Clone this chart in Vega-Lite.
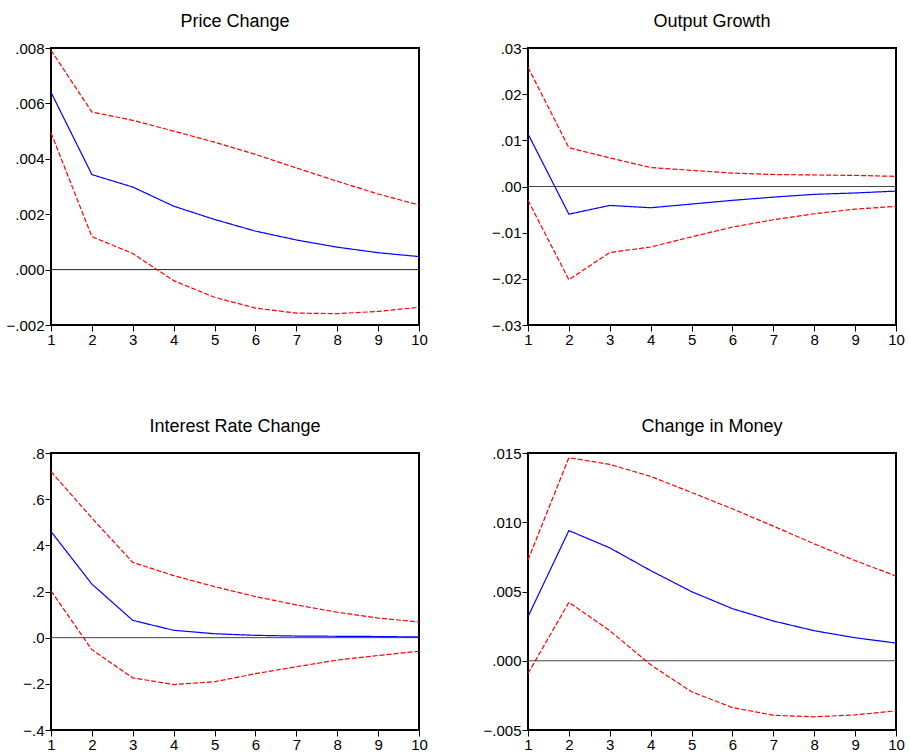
{
  "$schema": "https://vega.github.io/schema/vega-lite/v6.json",
  "background": "white",
  "padding": {"left": 5, "top": 12, "right": 5, "bottom": 5},
  "data": {"values": [
    {"p": "price", "h": 1, "resp": 0.0064, "lo": 0.00494, "hi": 0.00792},
    {"p": "price", "h": 2, "resp": 0.00343, "lo": 0.00119, "hi": 0.00569},
    {"p": "price", "h": 3, "resp": 0.00298, "lo": 0.00058, "hi": 0.00539},
    {"p": "price", "h": 4, "resp": 0.00229, "lo": -0.0004, "hi": 0.005},
    {"p": "price", "h": 5, "resp": 0.00181, "lo": -0.001, "hi": 0.0046},
    {"p": "price", "h": 6, "resp": 0.00139, "lo": -0.00139, "hi": 0.00416},
    {"p": "price", "h": 7, "resp": 0.00107, "lo": -0.00157, "hi": 0.00367},
    {"p": "price", "h": 8, "resp": 0.00081, "lo": -0.00159, "hi": 0.00319},
    {"p": "price", "h": 9, "resp": 0.00061, "lo": -0.00151, "hi": 0.00273},
    {"p": "price", "h": 10, "resp": 0.00047, "lo": -0.00136, "hi": 0.00233},
    {"p": "output", "h": 1, "resp": 0.0114, "lo": -0.003, "hi": 0.0258},
    {"p": "output", "h": 2, "resp": -0.006, "lo": -0.0202, "hi": 0.0084},
    {"p": "output", "h": 3, "resp": -0.0041, "lo": -0.0143, "hi": 0.0062},
    {"p": "output", "h": 4, "resp": -0.0046, "lo": -0.0131, "hi": 0.0041},
    {"p": "output", "h": 5, "resp": -0.0038, "lo": -0.0109, "hi": 0.0035},
    {"p": "output", "h": 6, "resp": -0.003, "lo": -0.0088, "hi": 0.0029},
    {"p": "output", "h": 7, "resp": -0.0023, "lo": -0.0072, "hi": 0.0026},
    {"p": "output", "h": 8, "resp": -0.0017, "lo": -0.0059, "hi": 0.0025},
    {"p": "output", "h": 9, "resp": -0.0014, "lo": -0.0049, "hi": 0.0024},
    {"p": "output", "h": 10, "resp": -0.001, "lo": -0.0043, "hi": 0.0022},
    {"p": "interest", "h": 1, "resp": 0.46, "lo": 0.203, "hi": 0.719},
    {"p": "interest", "h": 2, "resp": 0.232, "lo": -0.052, "hi": 0.518},
    {"p": "interest", "h": 3, "resp": 0.075, "lo": -0.174, "hi": 0.326},
    {"p": "interest", "h": 4, "resp": 0.032, "lo": -0.203, "hi": 0.269},
    {"p": "interest", "h": 5, "resp": 0.017, "lo": -0.191, "hi": 0.221},
    {"p": "interest", "h": 6, "resp": 0.01, "lo": -0.156, "hi": 0.178},
    {"p": "interest", "h": 7, "resp": 0.007, "lo": -0.126, "hi": 0.142},
    {"p": "interest", "h": 8, "resp": 0.006, "lo": -0.097, "hi": 0.11},
    {"p": "interest", "h": 9, "resp": 0.005, "lo": -0.077, "hi": 0.085},
    {"p": "interest", "h": 10, "resp": 0.003, "lo": -0.059, "hi": 0.068},
    {"p": "money", "h": 1, "resp": 0.00318, "lo": -0.00092, "hi": 0.00728},
    {"p": "money", "h": 2, "resp": 0.0094, "lo": 0.00422, "hi": 0.01466},
    {"p": "money", "h": 3, "resp": 0.00815, "lo": 0.00217, "hi": 0.01418},
    {"p": "money", "h": 4, "resp": 0.00651, "lo": -0.00029, "hi": 0.01331},
    {"p": "money", "h": 5, "resp": 0.00499, "lo": -0.00224, "hi": 0.01215},
    {"p": "money", "h": 6, "resp": 0.00376, "lo": -0.00338, "hi": 0.01097},
    {"p": "money", "h": 7, "resp": 0.00287, "lo": -0.00393, "hi": 0.00972},
    {"p": "money", "h": 8, "resp": 0.00217, "lo": -0.00405, "hi": 0.00844},
    {"p": "money", "h": 9, "resp": 0.00166, "lo": -0.00391, "hi": 0.00723},
    {"p": "money", "h": 10, "resp": 0.00128, "lo": -0.00362, "hi": 0.00612}
  ]},
  "columns": 2,
  "spacing": {"row": 67, "column": 53},
  "concat": [
    {
      "title": "Price Change",
      "width": 368, "height": 277,
      "layer": [
        {
          "data": {"values": [{"zero": 0}]},
          "mark": {"type": "rule", "color": "#222", "strokeWidth": 1},
          "encoding": {"y": {"field": "zero", "type": "quantitative", "axis": {"title": null}}}
        },
        {
          "transform": [{"filter": "datum.p == 'price'"}, {"fold": ["resp", "lo", "hi"], "as": ["s", "v"]}],
          "mark": {"type": "line", "strokeWidth": 1.2},
          "encoding": {
            "x": {"field": "h", "type": "quantitative", "scale": {"domain": [1, 10], "nice": false, "zero": false}, "axis": {"values": [1,2,3,4,5,6,7,8,9,10], "format": "d", "labelFlush": false, "title": null}},
            "y": {"field": "v", "type": "quantitative", "scale": {"domain": [-0.002, 0.008], "nice": false, "zero": false}, "axis": {"values": [-0.002, 0, 0.002, 0.004, 0.006, 0.008], "labelExpr": "replace(format(datum.value, '.3f'), '0.', '.')", "title": null}},
            "color": {"field": "s", "type": "nominal", "scale": {"domain": ["resp", "lo", "hi"], "range": ["#0000ff", "#ff0000", "#ff0000"]}, "legend": null},
            "strokeDash": {"field": "s", "type": "nominal", "scale": {"domain": ["resp", "lo", "hi"], "range": [[1, 0], [5, 2], [5, 2]]}, "legend": null}
          }
        }
      ]
    },
    {
      "title": "Output Growth",
      "width": 368, "height": 277,
      "layer": [
        {
          "data": {"values": [{"zero": 0}]},
          "mark": {"type": "rule", "color": "#444", "strokeWidth": 1},
          "encoding": {"y": {"field": "zero", "type": "quantitative", "axis": {"title": null}}}
        },
        {
          "transform": [{"filter": "datum.p == 'output'"}, {"fold": ["resp", "lo", "hi"], "as": ["s", "v"]}],
          "mark": {"type": "line", "strokeWidth": 1.2},
          "encoding": {
            "x": {"field": "h", "type": "quantitative", "scale": {"domain": [1, 10], "nice": false, "zero": false}, "axis": {"values": [1,2,3,4,5,6,7,8,9,10], "format": "d", "labelFlush": false, "title": null}},
            "y": {"field": "v", "type": "quantitative", "scale": {"domain": [-0.03, 0.03], "nice": false, "zero": false}, "axis": {"values": [-0.03, -0.02, -0.01, 0, 0.01, 0.02, 0.03], "labelExpr": "replace(format(datum.value, '.2f'), '0.', '.')", "title": null}},
            "color": {"field": "s", "type": "nominal", "scale": {"domain": ["resp", "lo", "hi"], "range": ["#0000ff", "#ff0000", "#ff0000"]}, "legend": null},
            "strokeDash": {"field": "s", "type": "nominal", "scale": {"domain": ["resp", "lo", "hi"], "range": [[1, 0], [5, 2], [5, 2]]}, "legend": null}
          }
        }
      ]
    },
    {
      "title": "Interest Rate Change",
      "width": 368, "height": 277,
      "layer": [
        {
          "data": {"values": [{"zero": 0}]},
          "mark": {"type": "rule", "color": "#444", "strokeWidth": 1},
          "encoding": {"y": {"field": "zero", "type": "quantitative", "axis": {"title": null}}}
        },
        {
          "transform": [{"filter": "datum.p == 'interest'"}, {"fold": ["resp", "lo", "hi"], "as": ["s", "v"]}],
          "mark": {"type": "line", "strokeWidth": 1.2},
          "encoding": {
            "x": {"field": "h", "type": "quantitative", "scale": {"domain": [1, 10], "nice": false, "zero": false}, "axis": {"values": [1,2,3,4,5,6,7,8,9,10], "format": "d", "labelFlush": false, "title": null}},
            "y": {"field": "v", "type": "quantitative", "scale": {"domain": [-0.4, 0.8], "nice": false, "zero": false}, "axis": {"values": [-0.4, -0.2, 0, 0.2, 0.4, 0.6, 0.8], "labelExpr": "replace(format(datum.value, '.1f'), '0.', '.')", "title": null}},
            "color": {"field": "s", "type": "nominal", "scale": {"domain": ["resp", "lo", "hi"], "range": ["#0000ff", "#ff0000", "#ff0000"]}, "legend": null},
            "strokeDash": {"field": "s", "type": "nominal", "scale": {"domain": ["resp", "lo", "hi"], "range": [[1, 0], [5, 2], [5, 2]]}, "legend": null}
          }
        }
      ]
    },
    {
      "title": "Change in Money",
      "width": 368, "height": 277,
      "layer": [
        {
          "data": {"values": [{"zero": 0}]},
          "mark": {"type": "rule", "color": "#444", "strokeWidth": 1},
          "encoding": {"y": {"field": "zero", "type": "quantitative", "axis": {"title": null}}}
        },
        {
          "transform": [{"filter": "datum.p == 'money'"}, {"fold": ["resp", "lo", "hi"], "as": ["s", "v"]}],
          "mark": {"type": "line", "strokeWidth": 1.2},
          "encoding": {
            "x": {"field": "h", "type": "quantitative", "scale": {"domain": [1, 10], "nice": false, "zero": false}, "axis": {"values": [1,2,3,4,5,6,7,8,9,10], "format": "d", "labelFlush": false, "title": null}},
            "y": {"field": "v", "type": "quantitative", "scale": {"domain": [-0.005, 0.015], "nice": false, "zero": false}, "axis": {"values": [-0.005, 0, 0.005, 0.01, 0.015], "labelExpr": "replace(format(datum.value, '.3f'), '0.', '.')", "title": null}},
            "color": {"field": "s", "type": "nominal", "scale": {"domain": ["resp", "lo", "hi"], "range": ["#0000ff", "#ff0000", "#ff0000"]}, "legend": null},
            "strokeDash": {"field": "s", "type": "nominal", "scale": {"domain": ["resp", "lo", "hi"], "range": [[1, 0], [5, 2], [5, 2]]}, "legend": null}
          }
        }
      ]
    }
  ],
  "config": {
    "font": "Liberation Sans",
    "view": {"stroke": "#000", "strokeWidth": 2},
    "title": {"fontSize": 18, "fontWeight": "normal", "color": "#000", "offset": 10},
    "axis": {"domain": false, "grid": false, "ticks": true, "tickColor": "#000", "tickSize": 6, "tickWidth": 1, "labelFontSize": 15, "labelColor": "#000", "labelPadding": 1},
    "axisY": {"minExtent": 42, "maxExtent": 42},
    "axisX": {"minExtent": 24, "maxExtent": 24}
  }
}
